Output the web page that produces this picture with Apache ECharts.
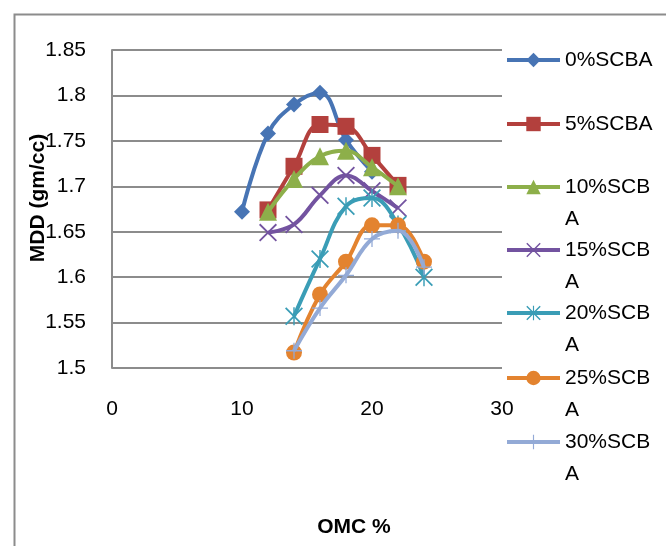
<!DOCTYPE html>
<html>
<head>
<meta charset="utf-8">
<script src="https://cdn.jsdelivr.net/npm/echarts@6/dist/echarts.min.js"></script>
<style>
  html, body { margin: 0; padding: 0; background: #ffffff; }
  #chart { width: 666px; height: 546px; }
</style>
</head>
<body>
<div id="chart"></div>
<script>
// Compaction results: OMC (%) against MDD (gm/cc) for each SCBA content
const seriesNames = ['0%SCBA', '5%SCBA', '10%SCBA', '15%SCBA', '20%SCBA', '25%SCBA', '30%SCBA'];

const omc0  = [10, 12, 14, 16, 18, 20];
const mdd0  = [1.672, 1.758, 1.790, 1.803, 1.751, 1.716];

const omc5  = [12, 14, 16, 18, 20, 22];
const mdd5  = [1.674, 1.722, 1.768, 1.766, 1.734, 1.701];

const omc10 = [12, 14, 16, 18, 20, 22];
const mdd10 = [1.672, 1.708, 1.733, 1.739, 1.721, 1.700];

const omc15 = [12, 14, 16, 18, 20, 22];
const mdd15 = [1.649, 1.658, 1.690, 1.712, 1.695, 1.676];

const omc20 = [14, 16, 18, 20, 22, 24];
const mdd20 = [1.557, 1.620, 1.678, 1.687, 1.658, 1.600];

const omc25 = [14, 16, 18, 20, 22, 24];
const mdd25 = [1.517, 1.581, 1.617, 1.657, 1.657, 1.617];

const omc30 = [14, 16, 18, 20, 22, 24];
const mdd30 = [1.519, 1.566, 1.602, 1.642, 1.651, 1.611];

const xTicks = [0, 10, 20, 30];
const yTicks = [1.5, 1.55, 1.6, 1.65, 1.7, 1.75, 1.8, 1.85];

const xs = [omc0, omc5, omc10, omc15, omc20, omc25, omc30];
const ys = [mdd0, mdd5, mdd10, mdd15, mdd20, mdd25, mdd30];

const colors = ['#4774B4', '#B3403D', '#8DAF4A', '#7353A0', '#3A9DB6', '#E3832F', '#93AAD6'];

// marker shapes drawn as filled paths
const crossPath = 'path://M0,1.4L1.4,0L20,18.6L18.6,20Z M18.6,0L20,1.4L1.4,20L0,18.6Z';
const starPath  = 'path://M0,1.4L1.4,0L20,18.6L18.6,20Z M18.6,0L20,1.4L1.4,20L0,18.6Z M9.2,0L10.8,0L10.8,20L9.2,20Z';
const plusPath  = 'path://M9.2,0L10.8,0L10.8,20L9.2,20Z M0,9.2L20,9.2L20,10.8L0,10.8Z';

const symbols = ['diamond', 'rect', 'triangle', crossPath, starPath, 'circle', plusPath];
const symbolSizes = [16, 17, 18, 18, 18, 16, 16];

const FONT = '"Liberation Sans", Arial, sans-serif';

const series = seriesNames.map((name, i) => ({
  name: name,
  type: 'line',
  smooth: 0.4,
  data: xs[i].map((x, j) => [x, ys[i][j]]),
  symbol: symbols[i],
  symbolSize: symbolSizes[i],
  showAllSymbol: true,
  lineStyle: { width: 4, color: colors[i] },
  itemStyle: { color: colors[i] },
  emphasis: { disabled: true },
  z: 2 + i
}));

// one legend block per series so each row sits at its own height
const legendCenters = [60, 124, 187, 250, 313, 378, 442];
const legendItemHeight = 18;
const lineH = 32;
const legends = seriesNames.map((name, i) => {
  const wrapped = name.length > 6;
  const half = wrapped ? lineH * 1.5 : lineH / 2;
  return {
    orient: 'vertical',
    left: 505,
    top: legendCenters[i] - half,
    padding: 0,
    itemWidth: 53,
    itemHeight: legendItemHeight,
    itemGap: 0,
    selectedMode: false,
    data: [name],
    lineStyle: { width: 4 },
    formatter: function (n) {
      return n.length > 6 ? '\n' + n.slice(0, 6) + '\n' + n.slice(6) : n;
    },
    textStyle: { fontFamily: FONT, fontSize: 21, color: '#000', lineHeight: lineH, padding: 0 }
  };
});

const chart = echarts.init(document.getElementById('chart'), null, { renderer: 'canvas' });
chart.setOption({
  backgroundColor: '#ffffff',
  animation: false,
  color: colors,
  grid: { left: 112, right: 164, top: 50, bottom: 178, containLabel: false },
  xAxis: {
    type: 'value',
    min: xTicks[0],
    max: xTicks[xTicks.length - 1],
    interval: xTicks[1] - xTicks[0],
    name: 'OMC %',
    nameLocation: 'middle',
    nameGap: 149,
    nameMoveOverlap: false,
    nameTextStyle: { fontFamily: FONT, fontSize: 21, fontWeight: 'bold', color: '#000', padding: [0, 0, 0, 94] },
    axisLine: { show: false },
    axisTick: { show: false },
    splitLine: { show: false },
    axisLabel: { fontFamily: FONT, fontSize: 21, color: '#000', margin: 31 }
  },
  yAxis: {
    type: 'value',
    min: yTicks[0],
    max: yTicks[yTicks.length - 1],
    interval: 0.05,
    name: 'MDD (gm/cc)',
    nameLocation: 'middle',
    nameRotate: 90,
    nameGap: 63,
    nameMoveOverlap: false,
    nameTextStyle: { fontFamily: FONT, fontSize: 21, fontWeight: 'bold', color: '#000', padding: [0, 0, 0, 22] },
    axisLine: { show: true, lineStyle: { color: '#8C8C8C', width: 2 } },
    axisTick: { show: false },
    splitLine: { show: true, lineStyle: { color: '#8C8C8C', width: 2 } },
    axisLabel: {
      fontFamily: FONT, fontSize: 21, color: '#000', margin: 26,
      formatter: v => String(Math.round(v * 100) / 100)
    }
  },
  legend: legends,
  series: series,
  graphic: [{
    type: 'rect',
    left: 12, top: 12,
    shape: { width: 653, height: 600 },
    style: { fill: 'none', stroke: '#8C8C8C', lineWidth: 2 },
    silent: true,
    z: -1
  }]
});
</script>
</body>
</html>
